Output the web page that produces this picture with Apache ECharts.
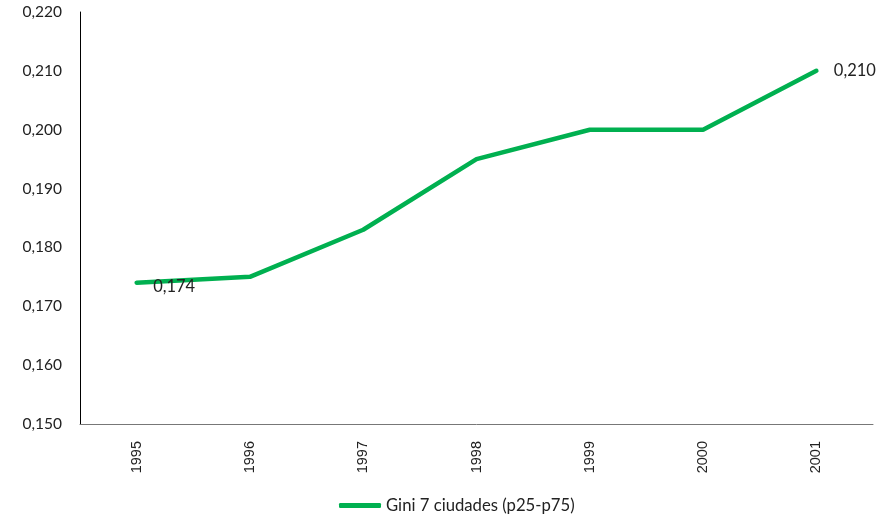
<!DOCTYPE html>
<html><head><meta charset="utf-8">
<script src="https://cdn.jsdelivr.net/npm/echarts@6/dist/echarts.min.js"></script>
<style>html,body{margin:0;padding:0;background:#fff}#c{width:893px;height:517px}</style>
</head><body><div id="c"></div>
<script>
const years = ['1995','1996','1997','1998','1999','2000','2001'];
const gini = [0.174, 0.175, 0.183, 0.195, 0.200, 0.200, 0.210];
const seriesName = 'Gini 7 ciudades (p25-p75)';
const labelled = [0, 6];

const chart = echarts.init(document.getElementById('c'));
const fmt = v => v.toFixed(3).replace('.', ',');
chart.setOption({
  animation: false,
  grid: {left: 80, right: 20, top: 12, bottom: 93},
  legend: {
    top: 492, left: 334, itemWidth: 42, itemHeight: 5, itemGap: 3,
    icon: 'roundRect',
    textStyle: {fontFamily: 'Lato', fontSize: 16.7, color: '#222'},
    data: [seriesName]
  },
  xAxis: {
    type: 'category', data: years, boundaryGap: true,
    axisLine: {lineStyle: {color: '#777', width: 1}},
    axisTick: {show: false},
    axisLabel: {rotate: 90, margin: 17, fontFamily: 'Liberation Sans', fontSize: 14.5, color: '#222'}
  },
  yAxis: {
    type: 'value', min: 0.15, max: 0.22, interval: 0.01,
    axisLine: {show: true, lineStyle: {color: '#000', width: 1}},
    axisTick: {show: false},
    splitLine: {show: false},
    axisLabel: {margin: 18, fontFamily: 'Lato', fontSize: 15.5, color: '#222', formatter: fmt}
  },
  series: [{
    name: seriesName, type: 'line', symbol: 'circle', symbolSize: 1, showSymbol: true,
    lineStyle: {color: '#00B050', width: 4.5, cap: 'round'},
    itemStyle: {color: '#00B050'},
    data: gini.map((v, i) => labelled.includes(i) ? {
      value: v,
      label: {show: true, position: i === 0 ? [17, -4] : 'right', distance: 17,
        formatter: p => fmt(p.value), fontFamily: 'Lato', fontSize: 16.5, color: '#222'}
    } : v)
  }]
});
</script></body></html>
